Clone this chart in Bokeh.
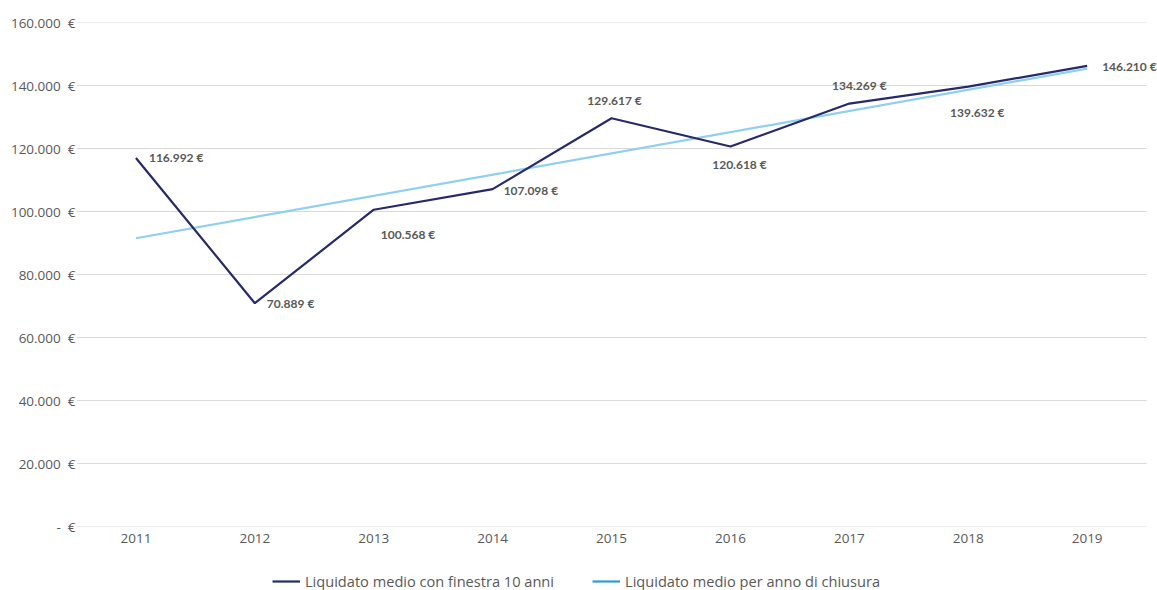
from bokeh.plotting import figure
from bokeh.models import ColumnDataSource, Range1d, Legend, LegendItem, FixedTicker
from bokeh.layouts import column
from bokeh.core.properties import value
from bokeh.embed import file_html
from bokeh.resources import INLINE

# ---- data ----
years = [2011, 2012, 2013, 2014, 2015, 2016, 2017, 2018, 2019]
liquidato_10_anni = [116992, 70889, 100568, 107098, 129617, 120618, 134269, 139632, 146210]
data_labels = ["116.992 €", "70.889 €", "100.568 €", "107.098 €", "129.617 €",
               "120.618 €", "134.269 €", "139.632 €", "146.210 €"]
trend_years = [2011, 2019]
trend_values = [91498, 145367]
y_ticks = [0, 20000, 40000, 60000, 80000, 100000, 120000, 140000, 160000]
y_tick_labels = ["-\u00a0\u00a0€", "20.000\u00a0\u00a0€", "40.000\u00a0\u00a0€", "60.000\u00a0\u00a0€",
                 "80.000\u00a0\u00a0€", "100.000\u00a0\u00a0€", "120.000\u00a0\u00a0€",
                 "140.000\u00a0\u00a0€", "160.000\u00a0\u00a0€"]
series_names = ["Liquidato medio con finestra 10 anni", "Liquidato medio per anno di chiusura"]

# ---- label placement (styling) ----
lab_align = ["left", "left", "left", "left", "center", "center", "center", "center", "left"]
lab_dx = [13, 12, 7, 11, 3, 9, 10, 9, 15]
lab_dy = [0, 0, 25, 1, -18, 18, -18, 26, 1]

NAVY = "#262A6B"
LIGHT = "#8FCFEF"
LEGEND_BLUE = "#2B9BD8"
GRAY = "#595959"
GRID = "#D9D9D9"

W = 1157
LEFT = 76
UNIT = 118.9
p = figure(width=W, height=572,
           x_range=Range1d(years[0] - 0.5, years[0] - 0.5 + (W - LEFT) / UNIT),
           y_range=Range1d(0, 160000),
           output_backend="svg", toolbar_location=None,
           min_border_left=LEFT, min_border_right=0, min_border_top=22, min_border_bottom=46)
p.outline_line_color = None
p.xgrid.grid_line_color = None
p.ygrid.grid_line_color = None

# horizontal grid lines spanning the category area
p.segment(x0=years[0] - 0.5, x1=years[-1] + 0.5, y0=y_ticks, y1=y_ticks,
          line_color=GRID, line_width=1)

p.xaxis.ticker = FixedTicker(ticks=years)
p.yaxis.ticker = FixedTicker(ticks=y_ticks)
p.yaxis.major_label_overrides = {t: l for t, l in zip(y_ticks, y_tick_labels)}
for ax in (p.xaxis, p.yaxis):
    ax.axis_line_color = None
    ax.major_tick_line_color = None
    ax.minor_tick_line_color = None
    ax.major_tick_out = 0
    ax.major_tick_in = 0
    ax.minor_tick_out = 0
    ax.major_label_text_color = GRAY
    ax.major_label_text_font = "Open Sans"
    ax.major_label_text_font_size = "13.5px"
p.yaxis.major_label_standoff = 1
p.xaxis.major_label_standoff = 7

p.line(x=trend_years, y=trend_values, line_color=LIGHT, line_width=2.2)
p.line(x=years, y=liquidato_10_anni, line_color=NAVY, line_width=2.2)

src = ColumnDataSource(dict(x=years, y=liquidato_10_anni, t=data_labels,
                            al=lab_align, dx=lab_dx, dy=lab_dy))
p.text(x="x", y="y", text="t", source=src, text_align="al", x_offset="dx", y_offset="dy",
       text_baseline="middle", text_color=GRAY, text_font=value("Lato"),
       text_font_style="bold", text_font_size="12px")

# ---- legend strip ----
lf = figure(width=W, height=18, x_range=Range1d(0, 1), y_range=Range1d(0, 1),
            output_backend="svg", toolbar_location=None,
            min_border_left=0, min_border_right=0, min_border_top=0, min_border_bottom=0)
lf.axis.visible = False
lf.grid.visible = False
lf.outline_line_color = None
nan = float("nan")
leg1 = lf.line(x=[0], y=[nan], line_color=NAVY, line_width=2.2)
leg2 = lf.line(x=[0], y=[nan], line_color=LEGEND_BLUE, line_width=2.2)
legend = Legend(items=[LegendItem(label=series_names[0], renderers=[leg1]),
                       LegendItem(label=series_names[1], renderers=[leg2])],
                orientation="horizontal", location=(196, -1),
                label_text_font="Open Sans", label_text_font_size="14.6px",
                label_text_color=GRAY, border_line_color=None, background_fill_alpha=0,
                glyph_width=28, glyph_height=14, label_standoff=5, spacing=38,
                margin=0, padding=0)
lf.add_layout(legend, "center")

open("out.html", "w").write(file_html(column(p, lf, spacing=0), INLINE))
